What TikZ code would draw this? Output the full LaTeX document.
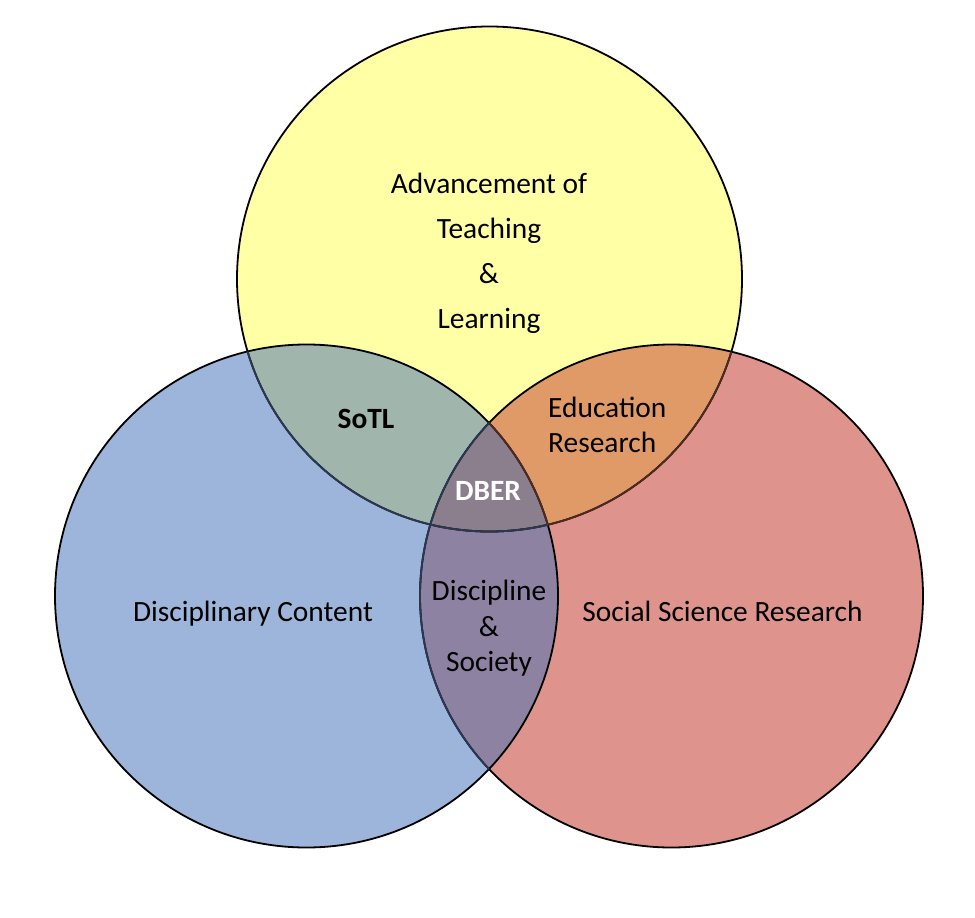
\documentclass[tikz,border=0pt]{standalone}
\usepackage{fontspec}
\setmainfont{Carlito}
\definecolor{cY}{HTML}{FFFFA6}
\definecolor{cB}{HTML}{9DB5DA}
\definecolor{cR}{HTML}{DE948C}
\definecolor{cYB}{HTML}{A0B6AC}
\definecolor{cYR}{HTML}{E09A68}
\definecolor{cBR}{HTML}{8D82A2}
\definecolor{cYBR}{HTML}{8B7F8E}
\definecolor{olB}{HTML}{2A3852}
\definecolor{olR}{HTML}{4E2A20}
\begin{document}
\begin{tikzpicture}[x=1pt,y=-1pt,
  ol/.style={line width=1.8pt, draw=black},
  lbl/.style={font=\fontsize{29.4}{35.5}\selectfont, inner sep=0pt},
  blbl/.style={font=\fontsize{29.4}{35.5}\selectfont\bfseries, inner sep=0pt}]
\useasboundingbox (0,0) rectangle (975,918);
\coordinate (cy) at (489.5,279);
\coordinate (cb) at (306.5,596);
\coordinate (cr) at (671.5,596);
\def\RY{252.5pt}
\def\RB{251.5pt}
% base fills
\fill[cB] (cb) circle[radius=\RB];
\fill[cR] (cr) circle[radius=\RB];
\fill[cY] (cy) circle[radius=\RY];
\begin{scope}
  \clip (cb) circle[radius=\RB];
  \fill[cBR] (cr) circle[radius=\RB];
\end{scope}
\begin{scope}
  \clip (cy) circle[radius=\RY];
  \fill[cYB] (cb) circle[radius=\RB];
  \fill[cYR] (cr) circle[radius=\RB];
  \clip (cb) circle[radius=\RB];
  \fill[cYBR] (cr) circle[radius=\RB];
\end{scope}
% outlines
\draw[ol] (cb) circle[radius=\RB];
\draw[ol] (cr) circle[radius=\RB];
\draw[ol] (cy) circle[radius=\RY];
\begin{scope}
  \clip (cr) circle[radius=\RB];
  \draw[ol, draw=olR] (cy) circle[radius=\RY];
  \clip (cy) circle[radius=\RY];
  \draw[ol, draw=olR] (cb) circle[radius=\RB];
\end{scope}
\begin{scope}
  \clip (cb) circle[radius=\RB];
  \draw[ol, draw=olB] (cr) circle[radius=\RB];
  \draw[ol, draw=olB] (cy) circle[radius=\RY];
\end{scope}
% labels
\node[lbl, align=center, font=\fontsize{29.4}{45}\selectfont] (atl) at (489,253)
  {Advancement of\\Teaching\\\&\\Learning};
\node[blbl, anchor=base] (sotl) at (366,428) {SoTL};
\node[lbl, align=left, anchor=west] (edu) at (548,425) {Education\\Research};
\node[blbl, anchor=base, text=white] (dber) at (488,500) {DBER};
\node[lbl, anchor=base] (dc) at (253,621) {Disciplinary Content};
\node[lbl, anchor=base] (ssr) at (722.5,621) {Social Science Research};
\node[lbl, align=center] (ds) at (489,628.5) {Discipline\\\&\\Society};
\end{tikzpicture}
\end{document}
